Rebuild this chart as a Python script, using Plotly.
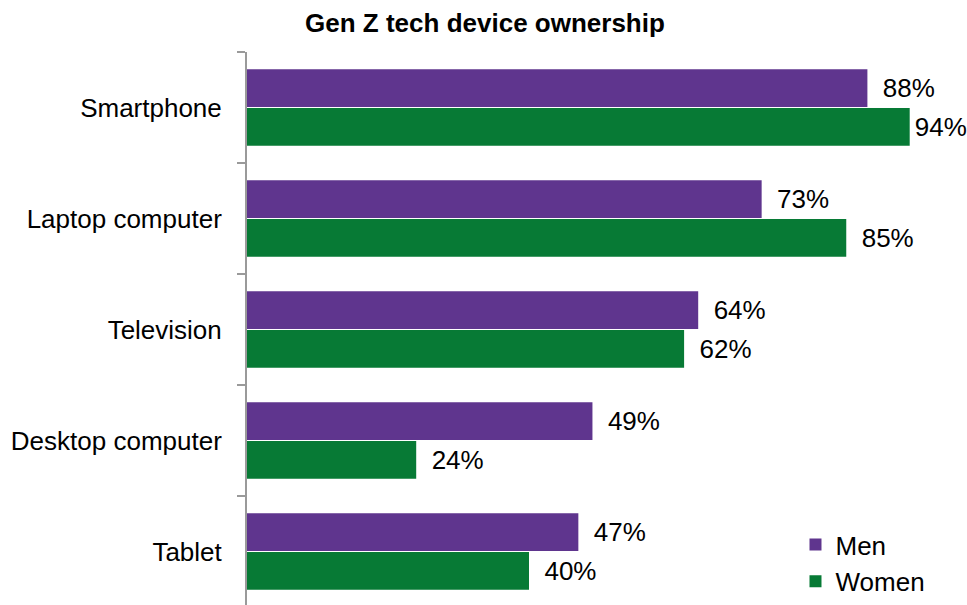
import plotly.graph_objects as go

# Device ownership among Gen Z, by gender (percent)
devices = ["Smartphone", "Laptop computer", "Television", "Desktop computer", "Tablet"]
men = [88, 73, 64, 49, 47]
women = [94, 85, 62, 24, 40]

PURPLE = "#5F358E"
GREEN = "#077A35"
FONT = "Liberation Sans, Arial, sans-serif"


def labels(values):
    # labels sit a little off the bar end; the longest bar keeps its label tight
    out = []
    for v in values:
        pad = "\u200a" if v >= 90 else "\u00a0\u2009"
        out.append(f"{pad}{v}%")
    return out


fig = go.Figure()
fig.add_trace(go.Bar(
    name="Men", y=devices, x=men, orientation="h",
    marker=dict(color=PURPLE, line=dict(width=0)),
    text=labels(men), textposition="outside",
    textfont=dict(size=26, color="#000000", family=FONT),
    cliponaxis=False,
))
fig.add_trace(go.Bar(
    name="Women", y=devices, x=women, orientation="h",
    marker=dict(color=GREEN, line=dict(width=0)),
    text=labels(women), textposition="outside",
    textfont=dict(size=26, color="#000000", family=FONT),
    cliponaxis=False,
))

fig.update_layout(
    width=967, height=605,
    margin=dict(l=247, r=15, t=52, b=0),
    paper_bgcolor="white", plot_bgcolor="white",
    font=dict(family=FONT, size=26, color="#000000"),
    barmode="group", bargap=0.3, bargroupgap=0.03,
    title=dict(
        text="<b>Gen Z tech device ownership</b>",
        x=0.5015, xref="container", xanchor="center",
        y=0.962, yref="container", yanchor="middle",
        font=dict(size=26, family=FONT, color="#000000"),
    ),
    xaxis=dict(range=[0, 100], visible=False, fixedrange=True),
    yaxis=dict(
        range=[4.482, -0.5], tickson="boundaries",
        ticks="outside", ticklen=8, tickwidth=2, tickcolor="#9A9A9A",
        showline=True, linecolor="#9A9A9A", linewidth=2,
        showgrid=False, ticklabelstandoff=18,
        tickfont=dict(size=26, family=FONT, color="#000000"),
    ),
    legend=dict(
        x=0.778, xref="paper", xanchor="left",
        y=0.0, yref="paper", yanchor="bottom",
        font=dict(size=26, family=FONT, color="#000000"),
        bgcolor="rgba(0,0,0,0)", itemwidth=30, tracegroupgap=0,
    ),
    showlegend=True,
)

fig.write_html("out.html")
